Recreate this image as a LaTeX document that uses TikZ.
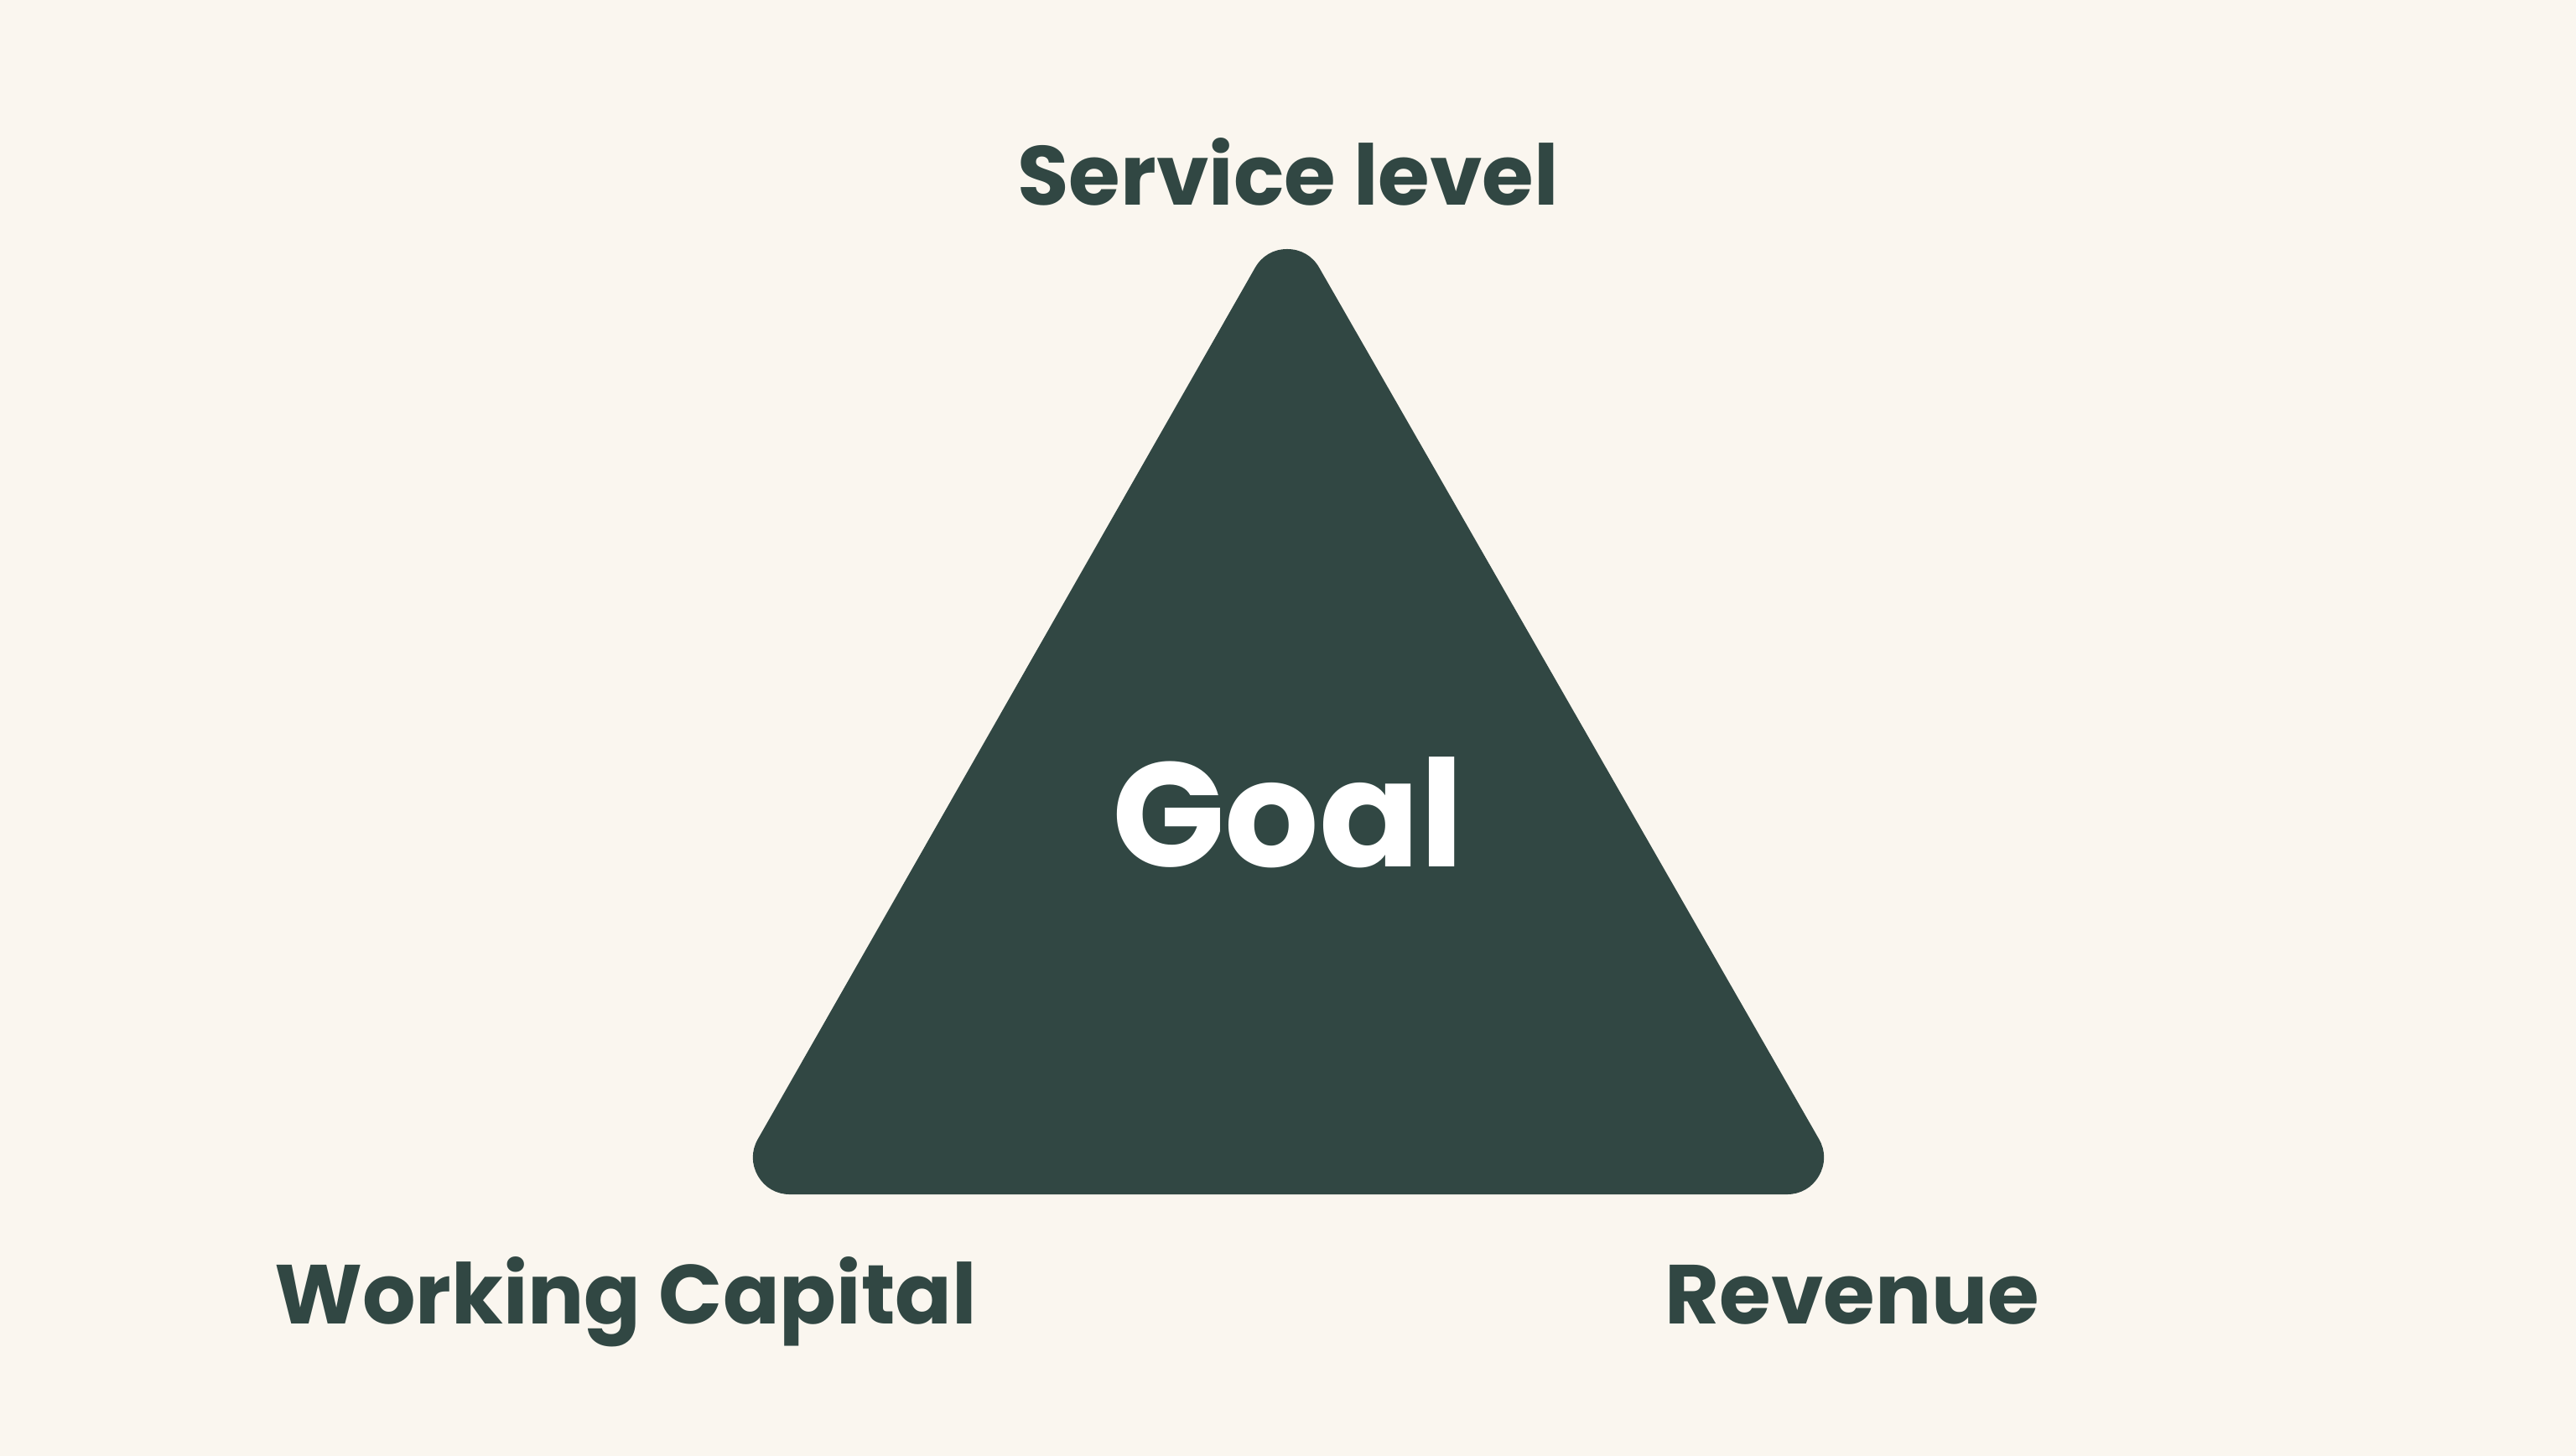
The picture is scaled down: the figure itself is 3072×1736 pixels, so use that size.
\documentclass[tikz,border=0pt]{standalone}
\usepackage{fontspec}
\setmainfont{Poppins}
\usetikzlibrary{positioning}
\definecolor{pine}{HTML}{314743}
\definecolor{cream}{HTML}{FAF6EF}

\begin{document}
\begin{tikzpicture}[x=0.01cm, y=-0.01cm,
	corner/.style={anchor=base, inner sep=0pt, text=pine, font=\fontsize{28.4pt}{32pt}\selectfont\bfseries},
	centre/.style={anchor=base, inner sep=0pt, text=white, font=\fontsize{50.3pt}{56pt}\selectfont\bfseries}]
	% Draw the background
	\fill[cream] (0,0) rectangle (3072,1736);
	\useasboundingbox (0,0) rectangle (3072,1736);

	% Draw the triangle, round corners come from the thick round join
	\coordinate (left) at (942,1380);
	\coordinate (right) at (2131,1380);
	\coordinate (apex) at (1535,341);
	\filldraw[pine, line width=0.88cm, line join=round] (left) -- (right) -- (apex) -- cycle;

	% Draw the goal inside
	\node[centre] (goal) at (1536,1033) {Goal};

	% Draw the three corner labels
	\node[corner] (service) at (1536,244) {Service level};
	\node[corner] (capital) at (746,1578) {Working Capital};
	\node[corner] (revenue) at (2209,1578) {Revenue};
\end{tikzpicture}
\end{document}
